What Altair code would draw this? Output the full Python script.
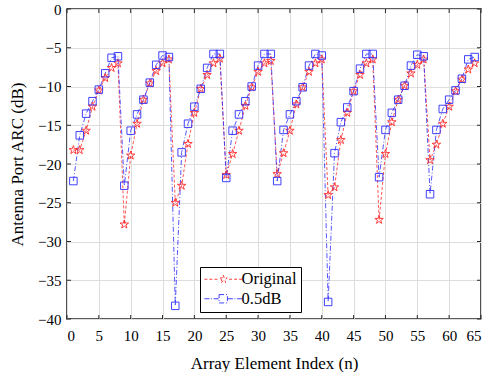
import altair as alt
import pandas as pd

element = list(range(1, 65))
original = [
    -18.2, -18.2, -15.7, -12.6, -10.5, -8.9, -7.6, -7.0,
    -27.8, -18.9, -14.8, -11.7, -9.6, -8.0, -7.0, -6.5,
    -25.0, -22.8, -17.4, -13.4, -10.3, -8.5, -7.0, -6.4,
    -21.4, -18.7, -15.7, -12.5, -10.1, -8.1, -7.0, -6.7,
    -21.3, -18.6, -15.7, -12.3, -10.1, -8.1, -7.0, -6.5,
    -24.0, -23.0, -16.9, -13.4, -10.6, -8.5, -7.0, -6.5,
    -27.2, -18.7, -14.6, -11.7, -9.9, -8.3, -7.2, -6.5,
    -19.5, -17.5, -14.8, -12.6, -10.6, -9.1, -7.8, -7.0,
]
half_db = [
    -22.2, -16.3, -13.5, -11.9, -10.4, -8.3, -6.3, -6.1,
    -22.8, -15.7, -13.6, -11.7, -9.5, -7.2, -6.0, -6.2,
    -38.3, -18.5, -14.8, -12.6, -10.3, -7.6, -5.8, -5.8,
    -21.8, -15.7, -13.6, -11.9, -10.0, -7.3, -5.8, -5.8,
    -22.2, -15.6, -13.6, -11.9, -10.1, -7.3, -5.8, -6.0,
    -37.8, -18.6, -14.6, -12.7, -10.6, -7.7, -5.8, -5.8,
    -21.7, -15.6, -13.4, -11.7, -9.9, -7.3, -5.9, -6.1,
    -23.9, -15.6, -12.9, -11.7, -10.5, -9.0, -6.5, -6.2,
]
series_names = ["Original", "0.5dB"]
x_ticks = list(range(0, 66, 5))
y_ticks = list(range(-40, 1, 5))

df = pd.concat([
    pd.DataFrame({"n": element, "v": original, "s": series_names[0]}),
    pd.DataFrame({"n": element, "v": half_db, "s": series_names[1]}),
], ignore_index=True)

W, H = 414, 310
FONT = "Liberation Serif"
RED = "#ff2b2b"
BLUE = "#2b2bff"

STAR = ("M0,-1L0.225,-0.309L0.951,-0.309L0.363,0.118L0.588,0.809L0,0.382"
        "L-0.588,0.809L-0.363,0.118L-0.951,-0.309L-0.225,-0.309Z")
SQUARE = "M-1,-1H1V1H-1Z"
LEG_STAR = (STAR + "M-4.5,0H-3.8M-3.3,0H-2.6M-2.1,0H-1.4M1.4,0H2.1M2.6,0H3.3M3.8,0H4.5")
LEG_SQ = (SQUARE + "M-4.5,0H-3.3M-2.9,0H-2.7M-2.3,0H-1.1M1.1,0H2.3M2.7,0H2.9M3.3,0H4.5")

x_scale = alt.Scale(domain=[0, 65], nice=False, zero=False)
y_scale = alt.Scale(domain=[-40, 0], nice=False, zero=False)
x_axis = alt.Axis(values=x_ticks, title="Array Element Index (n)", ticks=False, labelOverlap=False,
                  domain=False, labelPadding=9, titlePadding=12, format="d", grid=True)
y_axis = alt.Axis(values=y_ticks, title="Antenna Port ARC (dB)", ticks=False, labelOverlap=False,
                  domain=False, labelPadding=6, titlePadding=11, format="d", grid=True)

color_scale = alt.Scale(domain=series_names, range=[RED, BLUE])

legend = alt.Legend(
    title=None, orient="none", legendX=133, legendY=258,
    strokeColor="black", fillColor="white", padding=4, cornerRadius=0,
    labelFont=FONT, labelFontSize=16.5, labelColor="black",
    symbolSize=70, symbolStrokeWidth=0.9, symbolOffset=11, labelOffset=10, rowPadding=2.5,
    symbolType=alt.ExprRef(expr="datum.value === 'Original' ? '" + LEG_STAR + "' : '" + LEG_SQ + "'"),
)

X = alt.X("n:Q", scale=x_scale, axis=x_axis)
Y = alt.Y("v:Q", scale=y_scale, axis=y_axis)
C = alt.Color("s:N", scale=color_scale, legend=legend)

lines = alt.Chart(df).mark_line(strokeWidth=0.8).encode(
    x=X, y=Y, color=C,
    strokeDash=alt.StrokeDash("s:N", scale=alt.Scale(domain=series_names, range=[[3, 2], [5, 2, 1, 2]]), legend=None),
    order=alt.Order("n:Q"),
)

pts_orig = alt.Chart(df).transform_filter(alt.datum.s == series_names[0]).mark_point(
    filled=False, strokeWidth=0.9, opacity=1, shape=STAR, size=80
).encode(x=X, y=Y, color=C)

pts_half = alt.Chart(df).transform_filter(alt.datum.s == series_names[1]).mark_point(
    filled=False, strokeWidth=0.9, opacity=1, shape=SQUARE, size=56
).encode(x=X, y=Y, color=C)

xt = pd.DataFrame({"t": x_ticks})
yt = pd.DataFrame({"t": y_ticks})
tick_color = "#262626"
xenc = alt.X("t:Q", scale=x_scale, axis=x_axis)
yenc = alt.Y("t:Q", scale=y_scale, axis=y_axis)
xb = alt.Chart(xt).mark_rule(color=tick_color).encode(x=xenc, y=alt.value(H), y2=alt.value(H - 4))
xtop = alt.Chart(xt).mark_rule(color=tick_color).encode(x=xenc, y=alt.value(0), y2=alt.value(4))
yl = alt.Chart(yt).mark_rule(color=tick_color).encode(y=yenc, x=alt.value(0), x2=alt.value(4))
yr = alt.Chart(yt).mark_rule(color=tick_color).encode(y=yenc, x=alt.value(W), x2=alt.value(W - 4))

chart = alt.layer(lines, pts_orig, pts_half, xb, xtop, yl, yr).properties(
    width=W, height=H,
    background="white",
    autosize=alt.AutoSizeParams(type="none"),
    padding={"left": 67, "top": 9, "right": 9, "bottom": 53},
).configure_view(
    stroke="#262626", strokeWidth=1.6
).configure_axis(
    labelFont=FONT, labelFontSize=15, labelColor="black",
    titleFont=FONT, titleFontSize=17, titleFontWeight="normal", titleColor="black",
    gridColor="#dedede", gridWidth=1, gridOpacity=1,
).configure_legend(
    labelFont=FONT, labelFontSize=16.5, labelColor="black",
)

chart.save("out.html", embed_options={"renderer": "svg", "actions": False})
